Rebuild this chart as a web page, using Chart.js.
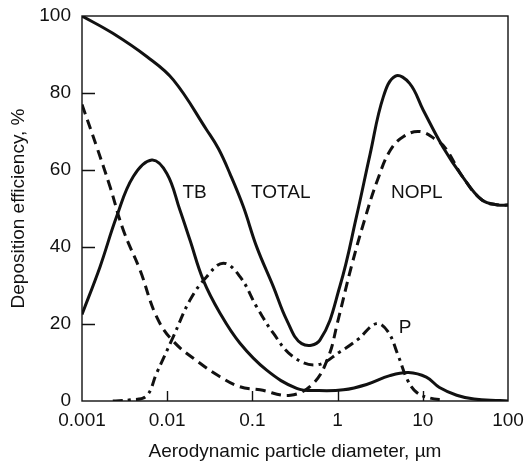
<!DOCTYPE html>
<html>
<head>
<meta charset="utf-8">
<script src="https://cdn.jsdelivr.net/npm/chart.js@4.4.1/dist/chart.umd.min.js"></script>
<style>
  body { margin: 0; background: #fff; }
  #wrap { width: 531px; height: 466px; }
</style>
</head>
<body>
<div id="wrap"><canvas id="depChart"></canvas></div>
<script>
// values (x = diameter in um, y = efficiency in %)
const totalX = [0.001, 0.0023, 0.0058, 0.0118, 0.0291, 0.04, 0.0546, 0.0782, 0.112, 0.176, 0.253, 0.379, 0.62, 1.07, 1.67, 2.4, 3.44, 4.77, 7, 10.1, 17.2, 29.2, 49.5, 77, 100];
const totalY = [100, 95.5, 89.4, 83.4, 70.4, 65.5, 59, 50.5, 40.1, 29.7, 21, 14.9, 15.8, 30, 48, 64, 79, 84.4, 82.5, 75.6, 66, 58.3, 52.2, 50.9, 50.9];

const tbX = [0.001, 0.00163, 0.00255, 0.004, 0.0066, 0.0099, 0.0141, 0.0185, 0.0265, 0.0417, 0.0715, 0.147, 0.331, 0.6, 1.17, 2.19, 4.1, 6.8, 11, 15.7, 25, 40, 80, 100];
const tbY = [22.5, 34.9, 47.9, 58.3, 62.6, 59.1, 49.6, 41.8, 31.4, 22.8, 15, 8, 3.3, 2.7, 2.9, 4.3, 6.6, 7.4, 6.2, 3.5, 1.5, 0.5, 0.1, 0];

const noplX = [0.001, 0.00149, 0.00213, 0.00305, 0.0048, 0.0075, 0.0118, 0.0243, 0.0417, 0.0715, 0.123, 0.28, 0.52, 0.78, 1.0, 1.45, 2.07, 2.94, 4.17, 5.95, 9.25, 14.4, 18.7, 29.2, 49.5, 77, 100];
const noplY = [77, 66, 55.7, 44.4, 34, 21.9, 15.5, 9.8, 6.3, 3.7, 2.9, 1.5, 4.6, 11.5, 20.5, 34.9, 47, 57.4, 65.2, 68.7, 70, 67.8, 65.5, 58.3, 52.2, 50.9, 50.9];

const pX = [0.0023, 0.0037, 0.0057, 0.0075, 0.0118, 0.0185, 0.0291, 0.0456, 0.0715, 0.112, 0.176, 0.30, 0.57, 1.07, 1.73, 2.85, 3.9, 5.2, 6.6, 8.5, 12, 18];
const pY = [0, 0.3, 1.3, 7.2, 16.7, 26.2, 32.3, 35.8, 32.3, 24.5, 17.6, 11.5, 9.4, 12.8, 16, 20.1, 18, 11.5, 5.5, 2.2, 0.8, 0.2];

const xTicks = [0.001, 0.01, 0.1, 1, 10, 100];
const xTickLabels = ['0.001', '0.01', '0.1', '1', '10', '100'];
const yTicks = [0, 20, 40, 60, 80, 100];

// curve names written inside the plot, at data coordinates
const curveLabels = ['TB', 'TOTAL', 'NOPL', 'P'];
const labelX = [0.021, 0.215, 8.5, 6.2];
const labelY = [54, 54, 54, 19];

const fontFamily = '"Liberation Sans", Arial, Helvetica, sans-serif';

function pts(xs, ys) {
    return xs.map((x, i) => ({ x: x, y: ys[i] }));
}

const framePlugin = {
    id: 'frame',
    afterDraw(chart) {
        const ctx = chart.ctx;
        const a = chart.chartArea;
        const sx = chart.scales.x;
        const sy = chart.scales.y;
        ctx.save();
        ctx.strokeStyle = '#111';
        ctx.lineWidth = 1.4;
        ctx.strokeRect(a.left, a.top, a.right - a.left, a.bottom - a.top);
        // inward ticks
        ctx.beginPath();
        yTicks.slice(1, -1).forEach(v => {
            const y = Math.round(sy.getPixelForValue(v)) + 0.5;
            ctx.moveTo(a.left, y);
            ctx.lineTo(a.left + 13, y);
        });
        xTicks.slice(1, -1).forEach(v => {
            const x = Math.round(sx.getPixelForValue(v)) + 0.5;
            ctx.moveTo(x, a.bottom);
            ctx.lineTo(x, a.bottom - 10);
        });
        ctx.stroke();
        // curve names
        ctx.fillStyle = '#111';
        ctx.font = '19px ' + fontFamily;
        ctx.textAlign = 'center';
        ctx.textBaseline = 'middle';
        curveLabels.forEach((t, i) => {
            ctx.fillText(t, sx.getPixelForValue(labelX[i]), sy.getPixelForValue(labelY[i]));
        });
        ctx.restore();
    }
};

const ctx = document.getElementById('depChart').getContext('2d');
const chart = new Chart(ctx, {
    type: 'line',
    data: {
        datasets: [
            { label: 'TOTAL', data: pts(totalX, totalY), borderColor: '#111', borderWidth: 3 },
            { label: 'TB', data: pts(tbX, tbY), borderColor: '#111', borderWidth: 3 },
            { label: 'NOPL', data: pts(noplX, noplY), borderColor: '#111', borderWidth: 3, borderDash: [10, 6] },
            { label: 'P', data: pts(pX, pY), borderColor: '#111', borderWidth: 3, borderDash: [10, 5, 3, 5] }
        ]
    },
    options: {
        responsive: true,
        maintainAspectRatio: false,
        animation: false,
        layout: { padding: { top: 16, right: 23, left: 0, bottom: 0 } },
        elements: {
            point: { radius: 0 },
            line: { tension: 0.4, borderCapStyle: 'butt' }
        },
        plugins: { legend: { display: false }, tooltip: { enabled: false } },
        scales: {
            x: {
                type: 'logarithmic',
                min: 0.001,
                max: 100,
                grid: { display: false },
                border: { display: false },
                afterBuildTicks: scale => { scale.ticks = xTicks.map(v => ({ value: v })); },
                afterFit: scale => { scale.height = 65; },
                ticks: {
                    color: '#111',
                    padding: 0,
                    maxRotation: 0,
                    autoSkip: false,
                    font: { family: fontFamily, size: 19 },
                    callback: (v) => { const i = xTicks.indexOf(v); return i >= 0 ? xTickLabels[i] : ''; }
                },
                title: {
                    display: true,
                    text: 'Aerodynamic particle diameter, \u00b5m',
                    color: '#111',
                    font: { family: fontFamily, size: 19 },
                    padding: { top: 0, bottom: 3 }
                }
            },
            y: {
                min: 0,
                max: 100,
                grid: { display: false },
                border: { display: false },
                afterFit: scale => { scale.width = 82; },
                ticks: {
                    stepSize: 20,
                    color: '#111',
                    padding: 3,
                    font: { family: fontFamily, size: 19 }
                },
                title: {
                    display: true,
                    text: 'Deposition efficiency, %',
                    color: '#111',
                    font: { family: fontFamily, size: 19 },
                    padding: { top: 7, bottom: 0 }
                }
            }
        }
    },
    plugins: [framePlugin]
});
</script>
</body>
</html>
